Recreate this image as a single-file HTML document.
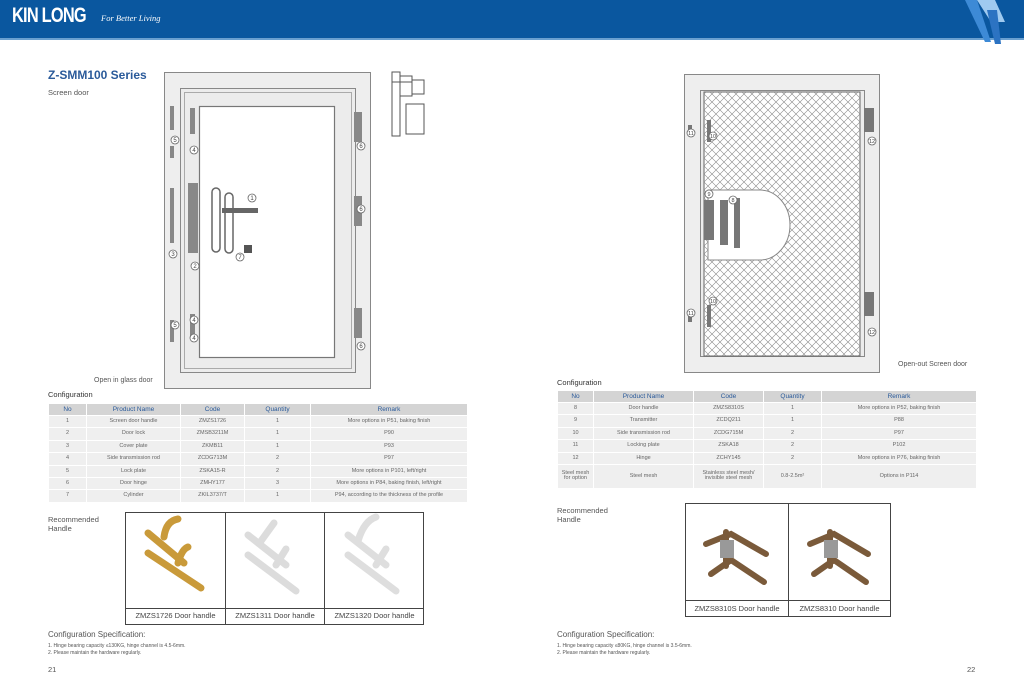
<!DOCTYPE html>
<html><head><meta charset="utf-8"><style>
*{margin:0;padding:0;box-sizing:border-box}
body{width:1024px;height:683px;position:relative;background:#fff;font-family:"Liberation Sans",sans-serif;color:#555;overflow:hidden}
.a{position:absolute}
table{position:absolute;border-collapse:collapse;font-size:5.5px;color:#666;text-align:center;table-layout:fixed}
th{background:#d4d4d4;color:#2a5a9a;font-weight:normal;font-size:6.5px;border:1px solid #fff}
td{background:#efefef;border:1px solid #fff;padding:0;line-height:1}
.c{font-size:7.5px;color:#333}
.small{font-size:5px;color:#555}
.lbl{font-size:7.5px;color:#444;text-align:center;position:absolute}
</style></head><body>
<div class="a" style="left:0;top:0;width:1024px;height:38px;background:#0a579f"></div>
<div class="a" style="left:0;top:38px;width:1024px;height:2px;background:#6aa0d0"></div>
<svg class="a" style="left:955px;top:0" width="69" height="44"><polygon points="10,0 22,0 36,42 30,42" fill="#3d8ad6"/><polygon points="22,0 40,0 50,22 36,22" fill="#9fcaf0"/><polygon points="32,10 42,10 46,44 40,44" fill="#2c73c2"/></svg>
<div class="a" style="left:12px;top:4px;color:#fff;font-weight:bold;font-size:21px;letter-spacing:-1px;transform:scaleX(.78);transform-origin:left">KIN LONG</div>
<div class="a" style="left:101px;top:13px;color:#fff;font-family:'Liberation Serif',serif;font-style:italic;font-size:8.5px">For Better Living</div>

<div class="a" style="left:48px;top:68px;color:#2a5a9a;font-weight:bold;font-size:12px">Z-SMM100 Series</div>
<div class="a" style="left:48px;top:88px;font-size:7.5px">Screen door</div>

<!-- left door -->
<svg class="a" style="left:160px;top:68px" width="300" height="325">
<rect x="4.5" y="4.5" width="206" height="316" fill="#eeeeee" stroke="#888"/>
<rect x="20.5" y="20.5" width="175" height="284" fill="#ececec" stroke="#888"/>
<rect x="24.5" y="24.5" width="167" height="276" fill="none" stroke="#aaa"/>
<rect x="39.5" y="38.5" width="135" height="251" fill="#fff" stroke="#777" stroke-width="1.2"/>
<g fill="#888"><rect x="10" y="38" width="4" height="24"/><rect x="10" y="78" width="4" height="12"/><rect x="10" y="120" width="4" height="55"/><rect x="10" y="252" width="4" height="22"/>
<rect x="30" y="40" width="5" height="26"/><rect x="28" y="115" width="10" height="70"/><rect x="30" y="246" width="5" height="22"/>
<rect x="194" y="44" width="8" height="30"/><rect x="194" y="128" width="8" height="30"/><rect x="194" y="240" width="8" height="30"/>
<rect x="52" y="120" width="8" height="64" rx="4" fill="none" stroke="#666" stroke-width="1.5"/>
<rect x="65" y="125" width="8" height="60" rx="4" fill="none" stroke="#666" stroke-width="1.5"/>
<rect x="62" y="140" width="36" height="5" fill="#666"/><rect x="84" y="177" width="8" height="8" fill="#555"/></g>
<g fill="#fff" stroke="#666" stroke-width=".8">
<circle cx="15" cy="72" r="4"/><circle cx="34" cy="82" r="4"/><circle cx="13" cy="186" r="4"/><circle cx="35" cy="198" r="4"/><circle cx="15" cy="257" r="4"/><circle cx="34" cy="252" r="4"/><circle cx="34" cy="270" r="4"/><circle cx="201" cy="78" r="4"/><circle cx="201" cy="141" r="4"/><circle cx="201" cy="278" r="4"/><circle cx="92" cy="130" r="4"/><circle cx="80" cy="189" r="4"/></g>
<g font-size="6" fill="#444" text-anchor="middle"><text x="15" y="74">5</text><text x="34" y="84">4</text><text x="13" y="188">3</text><text x="35" y="200">2</text><text x="15" y="259">5</text><text x="34" y="254">4</text><text x="34" y="272">4</text><text x="201" y="80">6</text><text x="201" y="143">6</text><text x="201" y="280">6</text><text x="92" y="132">1</text><text x="80" y="191">7</text></g>
<g stroke="#555" fill="none"><rect x="232" y="4" width="8" height="64"/><rect x="240" y="8" width="12" height="20"/><rect x="252" y="12" width="12" height="14"/><rect x="246" y="36" width="18" height="30"/><line x1="232" y1="14" x2="252" y2="14"/></g>
</svg>
<div class="a" style="left:94px;top:377px;font-size:7px">Open in glass door</div>

<!-- right door -->
<svg class="a" style="left:680px;top:70px" width="205" height="310">
<defs><pattern id="m" width="8" height="8" patternUnits="userSpaceOnUse"><path d="M0,0L8,8M8,0L0,8" stroke="#888" stroke-width=".6"/></pattern></defs>
<rect x="4.5" y="4.5" width="195" height="298" fill="#eeeeee" stroke="#888"/>
<rect x="20.5" y="20.5" width="164" height="266" fill="#ececec" stroke="#888"/>
<rect x="24" y="22" width="156" height="264" fill="#fff" stroke="#666"/>
<rect x="24" y="22" width="156" height="264" fill="url(#m)"/>
<path d="M80,120 A30,35 0 0 1 80,190 L28,190 L28,120Z" fill="#fff" stroke="#888"/>
<g fill="#777"><rect x="27" y="50" width="4" height="22"/><rect x="8" y="55" width="4" height="10"/><rect x="24" y="130" width="10" height="40"/><rect x="40" y="130" width="8" height="45"/><rect x="54" y="128" width="6" height="50"/><rect x="8" y="240" width="4" height="12"/><rect x="27" y="235" width="4" height="22"/><rect x="184" y="38" width="10" height="24"/><rect x="184" y="222" width="10" height="24"/></g>
<g fill="#fff" stroke="#666" stroke-width=".8"><circle cx="11" cy="63" r="4"/><circle cx="33" cy="66" r="4"/><circle cx="29" cy="124" r="4"/><circle cx="53" cy="130" r="4"/><circle cx="33" cy="231" r="4"/><circle cx="11" cy="243" r="4"/><circle cx="192" cy="71" r="4"/><circle cx="192" cy="262" r="4"/></g>
<g font-size="5.5" fill="#444" text-anchor="middle"><text x="11" y="65">11</text><text x="33" y="68">10</text><text x="29" y="126">9</text><text x="53" y="132">8</text><text x="33" y="233">10</text><text x="11" y="245">11</text><text x="192" y="73">12</text><text x="192" y="264">12</text></g>
</svg>
<div class="a" style="left:898px;top:361px;font-size:7px">Open-out Screen door</div>

<div class="a c" style="left:48px;top:390px">Configuration</div>
<table style="left:48px;top:403px;width:420px">
<colgroup><col style="width:38px"><col style="width:94px"><col style="width:64px"><col style="width:66px"><col></colgroup>
<tr style="height:12px"><th>No</th><th>Product Name</th><th>Code</th><th>Quantity</th><th>Remark</th></tr>
<tr style="height:12.4px"><td>1</td><td>Screen door handle</td><td>ZMZS1726</td><td>1</td><td>More options in P51, baking finish</td></tr>
<tr style="height:12.4px"><td>2</td><td>Door lock</td><td>ZMSB3211M</td><td>1</td><td>P90</td></tr>
<tr style="height:12.4px"><td>3</td><td>Cover plate</td><td>ZKMB11</td><td>1</td><td>P93</td></tr>
<tr style="height:12.4px"><td>4</td><td>Side transmission rod</td><td>ZCDG713M</td><td>2</td><td>P97</td></tr>
<tr style="height:12.4px"><td>5</td><td>Lock plate</td><td>ZSKA15-R</td><td>2</td><td>More options in P101, left/right</td></tr>
<tr style="height:12.4px"><td>6</td><td>Door hinge</td><td>ZMHY177</td><td>3</td><td>More options in P84, baking finish, left/right</td></tr>
<tr style="height:12.4px"><td>7</td><td>Cylinder</td><td>ZKIL3737/T</td><td>1</td><td>P94, according to the thickness of the profile</td></tr>
</table>

<div class="a c" style="left:557px;top:378px">Configuration</div>
<table style="left:557px;top:390px;width:420px">
<colgroup><col style="width:36px"><col style="width:100px"><col style="width:70px"><col style="width:58px"><col></colgroup>
<tr style="height:12px"><th>No</th><th>Product Name</th><th>Code</th><th>Quantity</th><th>Remark</th></tr>
<tr style="height:12.4px"><td>8</td><td>Door handle</td><td>ZMZS8310S</td><td>1</td><td>More options in P52, baking finish</td></tr>
<tr style="height:12.4px"><td>9</td><td>Transmitter</td><td>ZCDQ211</td><td>1</td><td>P88</td></tr>
<tr style="height:12.4px"><td>10</td><td>Side transmission rod</td><td>ZCDG715M</td><td>2</td><td>P97</td></tr>
<tr style="height:12.4px"><td>11</td><td>Locking plate</td><td>ZSKA18</td><td>2</td><td>P102</td></tr>
<tr style="height:12.4px"><td>12</td><td>Hinge</td><td>ZCHY145</td><td>2</td><td>More options in P76, baking finish</td></tr>
<tr style="height:24px"><td>Steel mesh<br>for option</td><td>Steel mesh</td><td>Stainless steel mesh/<br>invisible steel mesh</td><td>0.8-2.5m²</td><td>Options in P114</td></tr>
</table>

<div class="a" style="left:48px;top:515px;font-size:7.5px;line-height:9px">Recommended<br>Handle</div>
<div class="a" style="left:557px;top:506px;font-size:7.5px;line-height:9px">Recommended<br>Handle</div>

<div class="a" style="left:125px;top:512px;width:299px;height:113px;border:1px solid #444"></div>
<div class="a" style="left:225px;top:512px;width:1px;height:113px;background:#444"></div>
<div class="a" style="left:324px;top:512px;width:1px;height:113px;background:#444"></div>
<div class="a" style="left:125px;top:608px;width:299px;height:1px;background:#444"></div>
<div class="lbl" style="left:126px;top:611px;width:99px">ZMZS1726 Door handle</div>
<div class="lbl" style="left:226px;top:611px;width:98px">ZMZS1311 Door handle</div>
<div class="lbl" style="left:325px;top:611px;width:99px">ZMZS1320 Door handle</div>
<svg class="a" style="left:126px;top:513px" width="298" height="95">
<g stroke-linecap="round" fill="none">
<g stroke="#c99a3a" stroke-width="7"><line x1="22" y1="20" x2="58" y2="50"/><line x1="22" y1="40" x2="75" y2="75"/><path d="M38,24 Q40,8 52,6" /><path d="M52,50 Q56,36 62,34"/></g>
<g stroke="#dcdcdc" stroke-width="7"><line x1="122" y1="22" x2="160" y2="52"/><line x1="122" y1="42" x2="170" y2="78"/><path d="M135,28 L148,10"/><path d="M150,52 L160,36"/></g>
<g stroke="#dedede" stroke-width="7"><line x1="222" y1="22" x2="260" y2="52"/><line x1="222" y1="42" x2="270" y2="78"/><path d="M232,28 Q238,8 250,4"/><path d="M250,52 L260,36"/></g>
</g></svg>

<div class="a" style="left:685px;top:503px;width:206px;height:114px;border:1px solid #444"></div>
<div class="a" style="left:788px;top:503px;width:1px;height:114px;background:#444"></div>
<div class="a" style="left:685px;top:600px;width:206px;height:1px;background:#444"></div>
<div class="lbl" style="left:686px;top:604px;width:102px">ZMZS8310S Door handle</div>
<div class="lbl" style="left:789px;top:604px;width:101px">ZMZS8310 Door handle</div>
<svg class="a" style="left:686px;top:504px" width="204" height="96">
<g stroke="#7a5a3a" stroke-width="6" fill="none" stroke-linecap="round">
<path d="M20,40 L45,30 L80,50"/><path d="M25,70 L45,56 L78,78"/><line x1="40" y1="28" x2="40" y2="62"/>
<path d="M124,40 L148,30 L182,50"/><path d="M128,70 L148,56 L180,78"/><line x1="144" y1="28" x2="144" y2="62"/></g>
<g fill="#999"><rect x="34" y="36" width="14" height="18"/><rect x="138" y="36" width="14" height="18"/></g></svg>

<div class="a" style="left:48px;top:630px;font-size:8px;color:#555">Configuration Specification:</div>
<div class="a small" style="left:48px;top:643px;line-height:7px">1. Hinge bearing capacity ≤130KG, hinge channel is 4.5-6mm.<br>2. Please maintain the hardware regularly.</div>
<div class="a" style="left:48px;top:665px;font-size:7.5px">21</div>
<div class="a" style="left:557px;top:630px;font-size:8px;color:#555">Configuration Specification:</div>
<div class="a small" style="left:557px;top:643px;line-height:7px">1. Hinge bearing capacity ≤80KG, hinge channel is 3.5-6mm.<br>2. Please maintain the hardware regularly.</div>
<div class="a" style="left:967px;top:665px;font-size:7.5px">22</div>
</body></html>
